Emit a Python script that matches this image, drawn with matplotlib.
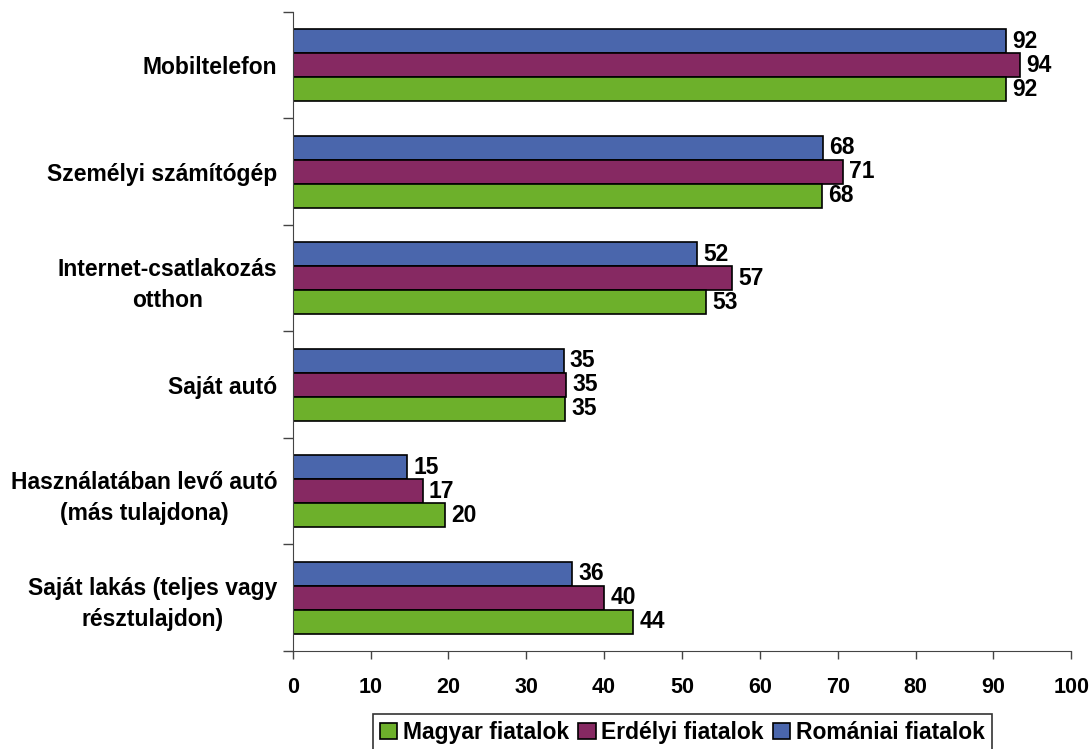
import matplotlib.pyplot as plt
import numpy as np

plt.rcParams['font.family'] = ['Liberation Sans', 'DejaVu Sans']
plt.rcParams['font.weight'] = 'bold'

categories = ['Mobiltelefon', 'Személyi számítógép', 'Internet-csatlakozás\notthon',
              'Saját autó', 'Használatában levő autó\n(más tulajdona)',
              'Saját lakás (teljes vagy\nrésztulajdon)']
romaniai = [91.6, 68.1, 51.9, 34.8, 14.7, 35.9]
erdelyi = [93.4, 70.7, 56.4, 35.1, 16.7, 40.0]
magyar = [91.6, 68.0, 53.1, 35.0, 19.6, 43.7]
romaniai_lbl = [92, 68, 52, 35, 15, 36]
erdelyi_lbl = [94, 71, 57, 35, 17, 40]
magyar_lbl = [92, 68, 53, 35, 20, 44]

c_blue = '#4A66AC'
c_maroon = '#862962'
c_green = '#6DB02B'

fig = plt.figure(figsize=(10.92, 7.49), dpi=100)
ax = fig.add_axes([0.268, 0.131, 0.981 - 0.268, 0.984 - 0.131])

y = np.arange(len(categories))
h = 0.225
series = [(romaniai, romaniai_lbl, c_blue, 'Romániai fiatalok', -h),
          (erdelyi, erdelyi_lbl, c_maroon, 'Erdélyi fiatalok', 0),
          (magyar, magyar_lbl, c_green, 'Magyar fiatalok', h)]
handles = {}
for vals, lbls, col, name, off in series:
    bars = ax.barh(y + off, vals, height=h, color=col, edgecolor='black',
                   linewidth=1.2, label=name)
    handles[name] = bars
    for b, v, l in zip(bars, vals, lbls):
        ax.text(v + 0.8, b.get_y() + b.get_height() / 2, str(l),
                va='center', ha='left', fontsize=16.5, fontweight='bold')

ax.set_xlim(0, 100)
ax.set_ylim(len(categories) - 0.5, -0.5)
ax.set_xticks(np.arange(0, 101, 10))
ax.set_yticks(y)
ax.set_yticklabels(categories, multialignment='center', fontsize=16.5,
                   linespacing=1.45)
ax.set_yticks(np.arange(-0.5, len(categories), 1), minor=True)
ax.tick_params(axis='y', which='major', length=0, pad=11)
ax.tick_params(axis='y', which='minor', length=7, width=1, color='#444444')
ax.tick_params(axis='x', length=6, width=1, color='#444444', labelsize=15.5, pad=13)
for t in ax.get_xticklabels():
    t.set_fontweight('bold')

ax.spines['top'].set_visible(False)
ax.spines['right'].set_visible(False)
ax.spines['left'].set_color('#444444')
ax.spines['bottom'].set_color('#444444')

order = ['Magyar fiatalok', 'Erdélyi fiatalok', 'Romániai fiatalok']
leg = fig.legend([handles[n] for n in order], order, loc='center',
                 bbox_to_anchor=(0.625, 0.022), ncol=3, frameon=True,
                 fancybox=False, edgecolor='black', fontsize=16.5,
                 handlelength=0.75, handleheight=0.75, handletextpad=0.25,
                 columnspacing=0.4, borderpad=0.3, borderaxespad=0)
leg.get_frame().set_linewidth(1.2)
for t in leg.get_texts():
    t.set_fontweight('bold')

fig.savefig('out.png', dpi=100)
